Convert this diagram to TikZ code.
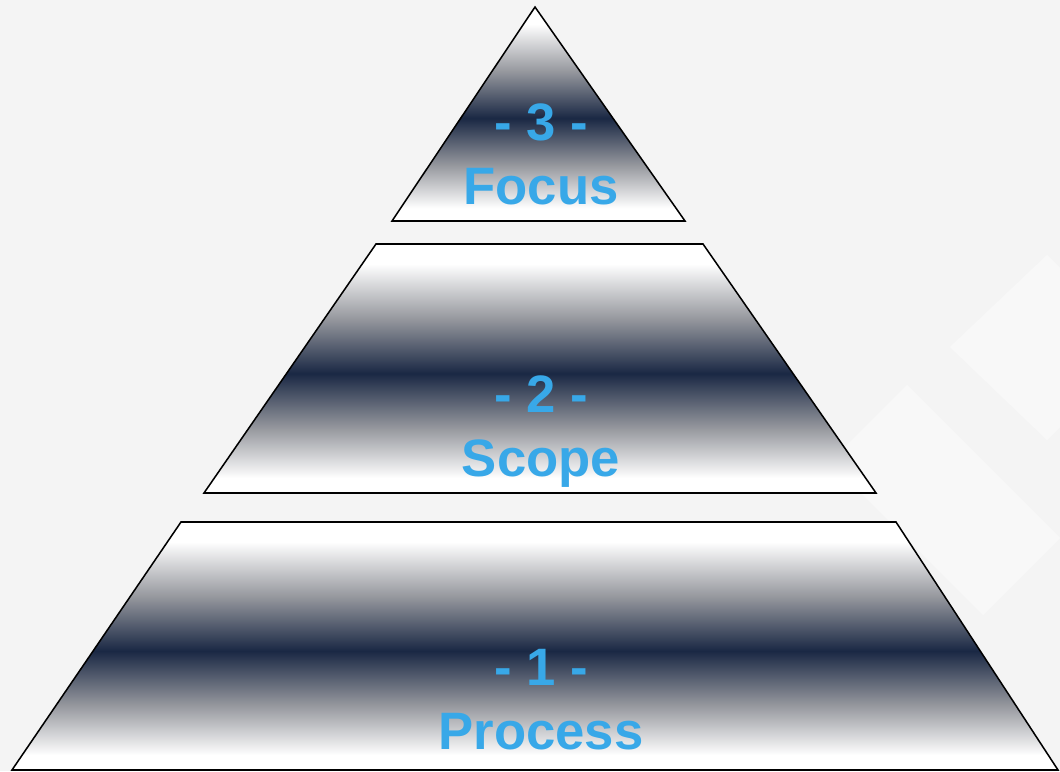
\documentclass[tikz,border=0pt]{standalone}
\usepackage{fontspec}
\setmainfont{Liberation Sans}
\usepackage{tikz}

\definecolor{tierblue}{RGB}{56,168,232}
\definecolor{tiernavy}{RGB}{26,40,68}
\definecolor{tiergray}{RGB}{150,152,158}
\definecolor{bggray}{RGB}{244,244,244}

% white at the edges, navy band a little below the middle
\pgfdeclareverticalshading{tiershade}{100bp}{color(0bp)=(white); color(28bp)=(white); color(38bp)=(tiergray); color(49bp)=(tiernavy); color(60bp)=(tiergray); color(71bp)=(white); color(100bp)=(white)}

\begin{document}
\begin{tikzpicture}[x=0.75pt,y=-0.75pt]
                \tikzstyle{tier} = [draw=black, line width=1.15pt, line join=miter, shading=tiershade]
                \tikzstyle{num} = [anchor=base, text=tierblue, font=\fontsize{39.5}{44}\selectfont\bfseries, inner sep=0pt]
                \tikzstyle{lbl} = [num]
                \tikzstyle{glow} = [fill=white, opacity=0.4]

                \fill [bggray] (0,0) rectangle (1060,771);
                \useasboundingbox (0,0) rectangle (1060,771);

                % faint backdrop shapes
                \fill [glow] (950,347) -- (1047,255) -- (1140,347) -- (1047,440) -- cycle;
                \fill [glow] (907,385) -- (830,462) -- (983,615) -- (1060,538) -- cycle;

                % the three tiers
                \path [tier] (535,7) -- (685,221) -- (392,221) -- cycle;
                \path [tier] (376,244) -- (703,244) -- (876,493) -- (204,493) -- cycle;
                \path [tier] (181,522) -- (896,522) -- (1058,770) -- (12,770) -- cycle;

                \node (num3) [num] at (541,140) {- 3 -};
                \node (focus) [lbl] at (541,204) {Focus};
                \node (num2) [num] at (541,412) {- 2 -};
                \node (scope) [lbl] at (541,476) {Scope};
                \node (num1) [num] at (541,685) {- 1 -};
                \node (process) [lbl] at (541,749) {Process};
            \end{tikzpicture}
\end{document}
